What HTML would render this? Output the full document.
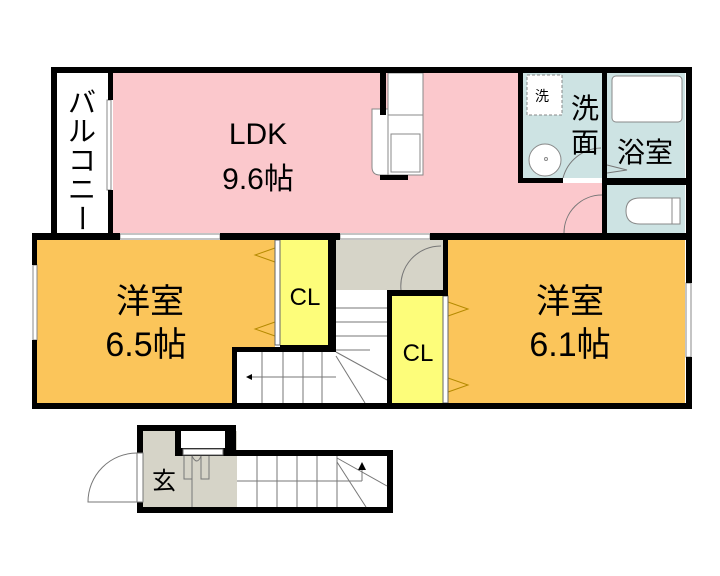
<!DOCTYPE html>
<html><head><meta charset="utf-8"><style>
html,body{margin:0;padding:0;background:#fff;}
svg{display:block;}
text{font-family:"Liberation Sans","Noto Sans CJK JP",sans-serif;fill:#000;}
</style></head><body>
<svg width="720" height="576" viewBox="0 0 720 576" xmlns="http://www.w3.org/2000/svg">
<rect x="57" y="73" width="51" height="160" fill="#fff"/>
<rect x="113" y="73" width="405" height="160" fill="#fbc8cc"/>
<rect x="518" y="183" width="89" height="50" fill="#fbc8cc"/>
<rect x="523" y="73" width="79" height="105" fill="#cde3e3"/>
<rect x="607" y="73" width="78" height="105" fill="#cde3e3"/>
<rect x="607" y="185" width="78" height="48" fill="#cde3e3"/>
<rect x="37" y="240" width="238" height="163" fill="#fbc55a"/>
<rect x="448" y="240" width="237" height="163" fill="#fbc55a"/>
<rect x="280" y="240" width="48" height="105" fill="#fdfd7a"/>
<rect x="392" y="296" width="51" height="107" fill="#fdfd7a"/>
<rect x="336" y="240" width="107" height="50" fill="#d6d4c8"/>
<rect x="336" y="290" width="51" height="113" fill="#fff"/>
<rect x="237" y="352" width="99" height="51" fill="#fff"/>
<rect x="388" y="73" width="35" height="42" fill="#fff" stroke="#888" stroke-width="1"/>
<rect x="388" y="115" width="35" height="60" fill="#fff" stroke="#888" stroke-width="1"/>
<rect x="391" y="134" width="29" height="38" fill="#fff" stroke="#888" stroke-width="1"/>
<path d="M372 109 h16 v66 h-8 q-8 0 -8 -8z" fill="#fff" stroke="#888"/>
<rect x="380" y="73" width="6" height="42" fill="#000"/>
<rect x="380" y="175" width="28" height="5" fill="#000"/>
<rect x="527" y="75" width="35" height="40" fill="#fff" stroke="#888" stroke-dasharray="3,2"/>
<circle cx="545" cy="160" r="16" fill="#fff" stroke="#888"/>
<circle cx="546" cy="159" r="1.5" fill="none" stroke="#888"/>
<rect x="612" y="76" width="70" height="46" rx="4" fill="#fff" stroke="#888"/>
<path d="M640 198 h40 v26 h-40 q-14 0 -14 -13 q0 -13 14 -13z" fill="#fff" stroke="#888"/>
<line x1="672" y1="198" x2="672" y2="224" stroke="#888"/>
<path d="M563 178 a40 40 0 0 1 38 -30" fill="none" stroke="#777"/>
<path d="M564 233 a38 38 0 0 1 38 -38" fill="none" stroke="#777"/>
<path d="M401 290 a40 40 0 0 1 40 -44" fill="none" stroke="#777"/>
<polyline points="607,165 627,170 607,173" fill="none" stroke="#777"/>
<g fill="none" stroke="#b58a00">
<polyline points="275,248 255,255 275,262"/><polyline points="275,322 255,329 275,336"/>
<polyline points="448,302 468,309 448,316"/><polyline points="448,378 468,385 448,392"/>
</g>
<rect x="275" y="240" width="5" height="105" fill="#fff" stroke="#666" stroke-width="1"/>
<rect x="443" y="296" width="5" height="107" fill="#fff" stroke="#666" stroke-width="1"/>
<g stroke="#777" stroke-width="1" fill="none">
<line x1="336" y1="308" x2="387" y2="308"/><line x1="336" y1="322" x2="387" y2="322"/>
<line x1="336" y1="336" x2="387" y2="336"/><line x1="336" y1="350" x2="370" y2="350"/>
<line x1="336" y1="352" x2="387" y2="380"/><line x1="336" y1="356" x2="365" y2="403"/>
<line x1="262" y1="352" x2="262" y2="403"/><line x1="283" y1="352" x2="283" y2="403"/>
<line x1="303" y1="352" x2="303" y2="403"/><line x1="322" y1="352" x2="322" y2="403"/>
<line x1="250" y1="377" x2="336" y2="377"/>
</g>
<polygon points="246,377 252,374 252,380" fill="#000"/>
<g fill="#fff" stroke="#888">
<rect x="107" y="100" width="4" height="90"/>
<rect x="120" y="234" width="100" height="5"/>
<rect x="340" y="234" width="90" height="5"/>
<rect x="33" y="265" width="4" height="75"/>
<rect x="686" y="283" width="5" height="74"/>
</g>
<g fill="#000">
<rect x="51" y="67" width="641" height="6"/>
<rect x="51" y="67" width="6" height="170"/>
<rect x="108" y="73" width="5" height="27"/><rect x="108" y="190" width="5" height="44"/>
<rect x="32" y="233" width="88" height="7"/><rect x="220" y="233" width="120" height="7"/><rect x="430" y="233" width="262" height="7"/>
<rect x="32" y="233" width="5" height="32"/><rect x="32" y="340" width="5" height="68"/>
<rect x="32" y="403" width="660" height="6"/>
<rect x="686" y="67" width="6" height="216"/><rect x="686" y="357" width="6" height="52"/>
<rect x="518" y="73" width="5" height="110"/>
<rect x="518" y="178" width="45" height="5"/>
<rect x="602" y="73" width="5" height="110"/><rect x="602" y="185" width="5" height="48"/>
<rect x="602" y="178" width="84" height="7"/>
<rect x="232" y="347" width="48" height="5"/><rect x="232" y="347" width="5" height="60"/>
<rect x="328" y="240" width="8" height="112"/><rect x="280" y="345" width="56" height="7"/>
<rect x="387" y="290" width="61" height="6"/><rect x="387" y="290" width="5" height="115"/>
<rect x="443" y="240" width="5" height="56"/>
</g>
<rect x="143" y="431" width="94" height="76" fill="#d6d4c8"/>
<rect x="237" y="456" width="150" height="51" fill="#fff"/>
<g fill="#000">
<rect x="137" y="425" width="99" height="6"/>
<rect x="175" y="425" width="61" height="31"/>
<rect x="230" y="450" width="163" height="6"/>
<rect x="137" y="425" width="6" height="28"/><rect x="137" y="502" width="6" height="11"/>
<rect x="387" y="450" width="6" height="63"/>
<rect x="137" y="507" width="256" height="6"/>
</g>
<rect x="181" y="431" width="44" height="17" fill="#fff"/>
<rect x="183" y="449" width="40" height="6" fill="#fff" stroke="#666"/>
<rect x="137" y="453" width="6" height="49" fill="#fff" stroke="#777"/>
<path d="M137 453 a49 49 0 0 0 -49 49 h49" fill="none" stroke="#777"/>
<g stroke="#777" fill="none">
<path d="M184 456 v23 h8 v-23 M201 456 v23 h8 v-23 M192 456 q5 10 9 0"/>
<line x1="192" y1="479" x2="192" y2="507"/>
<line x1="257" y1="456" x2="257" y2="507"/><line x1="277" y1="456" x2="277" y2="507"/>
<line x1="297" y1="456" x2="297" y2="507"/><line x1="317" y1="456" x2="317" y2="507"/>
<line x1="337" y1="456" x2="337" y2="507"/>
<line x1="237" y1="481" x2="362" y2="481"/><line x1="362" y1="481" x2="362" y2="468"/>
<line x1="337" y1="458" x2="387" y2="486"/><line x1="337" y1="462" x2="366" y2="507"/>
</g>
<polygon points="362,462 358,470 366,470" fill="#000"/>
<g font-size="30" text-anchor="middle">
<text x="258" y="144">LDK</text>
<text x="258" y="189">9.6帖</text>
</g>
<g font-size="34" text-anchor="middle">
<text x="150" y="313">洋室</text>
<text x="146" y="356">6.5帖</text>
<text x="570" y="313">洋室</text>
<text x="570" y="356">6.1帖</text>
</g>
<g font-size="24" text-anchor="middle">
<text x="305" y="305">CL</text>
<text x="418" y="361">CL</text>
<text x="585" y="118" font-size="28">洗</text>
<text x="585" y="152" font-size="28">面</text>
<text x="645" y="162" font-size="28">浴室</text>
<text x="164" y="489">玄</text>
<text x="542" y="101" font-size="14">洗</text>
</g>
<g font-size="28" text-anchor="middle">
<text x="82" y="112">バ</text>
<text x="82" y="141">ル</text>
<text x="82" y="170">コ</text>
<text x="82" y="199">ニ</text>
<text x="82" y="228" transform="rotate(90 82 218)">ー</text>
</g>
</svg>
</body></html>
